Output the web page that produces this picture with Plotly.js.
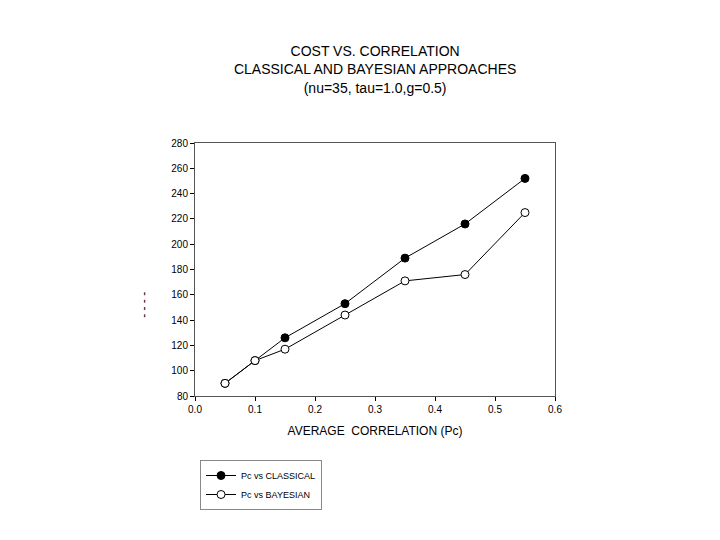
<!DOCTYPE html>
<html>
<head>
<meta charset="utf-8">
<script src="https://cdn.plot.ly/plotly-3.0.1.min.js"></script>
<style>body{margin:0;background:#fff;}#chart{width:720px;height:540px;}</style>
</head>
<body>
<div id="chart"></div>
<script>
const pc = [0.05, 0.10, 0.15, 0.25, 0.35, 0.45, 0.55];
const classicalCost = [90, 108, 126, 153, 189, 216, 252];
const bayesianCost = [90, 108, 117, 144, 171, 176, 225];
const xTicks = [0.0, 0.1, 0.2, 0.3, 0.4, 0.5, 0.6];
const xTickLabels = ['0.0', '0.1', '0.2', '0.3', '0.4', '0.5', '0.6'];
const yTicks = [80, 100, 120, 140, 160, 180, 200, 220, 240, 260, 280];

const traces = [
  {x: pc, y: classicalCost, name: 'Pc vs CLASSICAL', mode: 'lines+markers',
   line: {color: '#000', width: 1},
   marker: {symbol: 'circle', size: 8, color: '#000', line: {color: '#000', width: 1}}},
  {x: pc, y: bayesianCost, name: 'Pc vs BAYESIAN', mode: 'lines+markers',
   line: {color: '#000', width: 1},
   marker: {symbol: 'circle', size: 8, color: '#fff', line: {color: '#000', width: 1}}}
];

const font = {family: 'Liberation Sans, Arial, sans-serif', color: '#000'};
const layout = {
  width: 720, height: 540,
  paper_bgcolor: '#fff', plot_bgcolor: '#fff',
  margin: {l: 195, r: 165, t: 143, b: 144},
  font: Object.assign({size: 10}, font),
  title: {text: 'COST VS. CORRELATION<br>CLASSICAL AND BAYESIAN APPROACHES<br>(nu=35, tau=1.0,g=0.5)',
          font: Object.assign({size: 14}, font), x: 0.521, xanchor: 'center', y: 0.896, yanchor: 'top'},
  xaxis: {range: [0, 0.6], tickvals: xTicks, ticktext: xTickLabels, ticks: 'outside', ticklen: 4,
          tickcolor: '#000', showline: true, linecolor: '#555', linewidth: 1, mirror: true,
          showgrid: false, zeroline: false, tickfont: Object.assign({size: 10}, font),
          title: {text: 'AVERAGE&nbsp;&nbsp;CORRELATION (Pc)', font: Object.assign({size: 12}, font), standoff: 12}},
  yaxis: {range: [80, 280], tickvals: yTicks, ticks: 'outside', ticklen: 4,
          tickcolor: '#000', showline: true, linecolor: '#555', linewidth: 1, mirror: true,
          showgrid: false, zeroline: false, tickfont: Object.assign({size: 10}, font)},
  annotations: [{text: '- - - -', xref: 'paper', yref: 'paper', x: -0.142, y: 0.36,
                 xanchor: 'center', yanchor: 'middle', textangle: -90, showarrow: false,
                 font: Object.assign({size: 12}, font)}],
  showlegend: true,
  legend: {x: 0.014, y: -0.253, xanchor: 'left', yanchor: 'top', bordercolor: '#888', borderwidth: 1,
           bgcolor: '#fff', font: Object.assign({size: 9}, font), tracegroupgap: 0, itemwidth: 30}
};
Plotly.newPlot('chart', traces, layout, {displayModeBar: false});
</script>
</body>
</html>
